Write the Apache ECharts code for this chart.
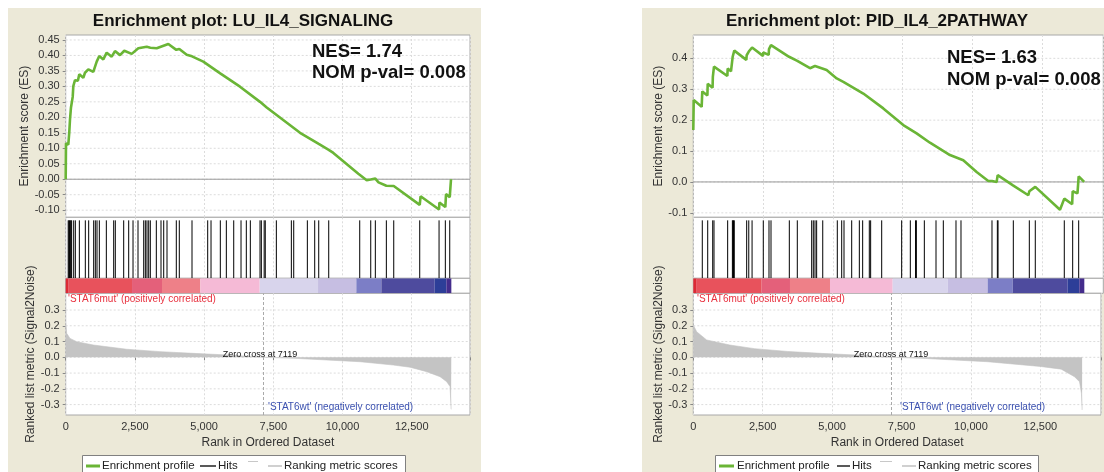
<!DOCTYPE html>
<html><head><meta charset="utf-8">
<script src="https://cdn.jsdelivr.net/npm/echarts@6/dist/echarts.min.js"></script>
<style>html,body{margin:0;padding:0;background:#fff}#c{width:1104px;height:472px}</style>
</head><body><div id="c"></div>
<script>
// ---------------- DATA ----------------
const p1Title = 'Enrichment plot: LU_IL4_SIGNALING';
const p1Stats = ['NES= 1.74', 'NOM p-val= 0.008'];
const p1EsRank = [0,11,94,130,155,191,253,275,336,440,491,636,697,817,997,1120,1214,1358,1481,1662,1781,1962,2117,2385,2623,2927,3060,3288,3707,3996,4104,4372,4563,4600,4971,5582,6297,7020,7262,8466,9141,9502,9669,10572,10622,10875,11020,11186,11300,11584,11620,11851,11880,12790,12820,13488,13500,13715,13740,13874,13920];
const p1EsScore = [0,0.116,0.112,0.153,0.193,0.232,0.266,0.301,0.32,0.318,0.339,0.328,0.344,0.355,0.347,0.38,0.398,0.387,0.409,0.396,0.414,0.401,0.415,0.405,0.423,0.428,0.425,0.423,0.437,0.418,0.421,0.402,0.397,0.401,0.38,0.342,0.299,0.25,0.232,0.150,0.114,0.095,0.085,0.018,0.02,-0.003,-0.001,0.002,-0.01,-0.021,-0.016,-0.022,-0.018,-0.083,-0.055,-0.098,-0.075,-0.09,-0.048,-0.058,0];
const p1Hits = [90,115,140,165,190,215,289,348,493,709,830,1011,1070,1131,1215,1468,1734,1792,2095,2276,2432,2612,2818,2877,2937,2999,3057,3274,3443,3541,3660,3996,4104,4563,5130,5250,5586,5803,6070,6334,6525,6670,7020,7068,7170,7210,7610,8152,8238,8730,8996,9141,9502,10622,11020,11186,11584,11851,12790,13488,13715,13874];
const p1BarStart = [0,108,2396,3479,4865,7009,9116,10500,11404,13331,13751];
const p1BarEnd   = [108,2396,3479,4865,7009,9116,10500,11404,13331,13751,13932];
const p1MetricRank  = [0,36,155,397,997,2204,3408,4611,5815,7119,8224,9428,10633,11837,12440,13043,13525,13766,13886,13922,13930];
const p1MetricValue = [0.216,0.152,0.12,0.099,0.078,0.051,0.036,0.025,0.015,0,-0.006,-0.017,-0.028,-0.049,-0.063,-0.091,-0.123,-0.155,-0.186,-0.323,-0.33];
const p1EsTicks = [-0.10,-0.05,0.00,0.05,0.10,0.15,0.20,0.25,0.30,0.35,0.40,0.45];

const p2Title = 'Enrichment plot: PID_IL4_2PATHWAY';
const p2Stats = ['NES= 1.63', 'NOM p-val= 0.008'];
const p2EsRank = [0,15,300,322,505,516,690,700,741,1220,1231,1350,1410,1468,1900,1912,1987,2105,2495,2507,2700,2711,2783,3430,3439,3725,3760,4180,4240,4359,4418,4775,5136,5374,6089,6805,7521,7999,8476,9193,9670,10148,10566,10698,10864,10902,11450,11462,12000,12035,12249,13134,13288,13570,13588,13760,13803,14000];
const p2EsScore = [0.168,0.265,0.243,0.293,0.28,0.318,0.305,0.34,0.373,0.343,0.367,0.358,0.405,0.425,0.395,0.41,0.422,0.435,0.408,0.419,0.411,0.43,0.443,0.405,0.408,0.392,0.39,0.368,0.373,0.375,0.378,0.362,0.335,0.324,0.286,0.238,0.184,0.157,0.127,0.087,0.07,0.032,0.003,0.003,0.0,0.022,-0.011,-0.005,-0.043,-0.03,-0.016,-0.09,-0.054,-0.072,-0.03,-0.037,0.018,0.0];
const p2Hits = [322,516,695,741,1231,1400,1420,1440,1468,1912,1987,2105,2507,2711,2783,3439,3725,4240,4298,4359,4418,4636,5158,5315,5398,5673,5947,6066,6304,6352,6748,7463,7773,7960,7990,8275,8693,8955,9409,9588,10698,10890,10915,11462,12035,12249,13288,13588,13803];
const p2BarStart = [0,122,2449,3463,4896,7141,9111,10544,11440,13410,13826];
const p2BarEnd   = [122,2449,3463,4896,7141,9111,10544,11440,13410,13826,14005];
const p2MetricRank  = [0,122,480,1314,2200,3400,4600,5800,7119,8200,9400,10600,11800,12500,13252,13732,13911,13980,14005];
const p2MetricValue = [0.205,0.162,0.11,0.078,0.055,0.037,0.025,0.015,0,-0.006,-0.017,-0.028,-0.047,-0.058,-0.075,-0.123,-0.155,-0.228,-0.334];
const p2EsTicks = [-0.1,0.0,0.1,0.2,0.3,0.4];

const barColors = ['#dc2a35','#e8525c','#e4607a','#ee8088','#f5bad6','#d8d4ec','#c6bee2','#7c7ec6','#4e4b9e','#2d3e98','#442c8c'];
const metricTicks = [-0.3,-0.2,-0.1,0.0,0.1,0.2,0.3];
const zeroCross = 7119;
const posLabel = "'STAT6mut' (positively correlated)";
const negLabel = "'STAT6wt' (negatively correlated)";
const legendNames = ['Enrichment profile', 'Hits', 'Ranking metric scores'];

// ---------------- LAYOUT / STYLE ----------------
const FONT = '"Liberation Sans", Arial, sans-serif';
const GREEN = '#6ab536';
const BORDER = '#a8a8a8';
const GRIDC = '#dcdcdc';

const panels = [
  { title:p1Title, stats:p1Stats, esX:p1EsRank, esY:p1EsScore, hits:p1Hits, bs:p1BarStart, be:p1BarEnd,
    mx:p1MetricRank, my:p1MetricValue, esTicks:p1EsTicks, dec:2,
    L:{left:65.7, width:404.3, xMax:14606, esMin:-0.123, esMax:0.466, bg:[8,8,473,464],
       titleX:243, statX:312, statY:[52,73], legend:{x:82,green:[86,100],t1:102,hits:[200,216],t2:218,mark:[248,258],grey:[268,282],t3:284,w:323},
       posX:68, zeroTxtX:260, negX:268 } },
  { title:p2Title, stats:p2Stats, esX:p2EsRank, esY:p2EsScore, hits:p2Hits, bs:p2BarStart, be:p2BarEnd,
    mx:p2MetricRank, my:p2MetricValue, esTicks:p2EsTicks, dec:1,
    L:{left:693.3, width:410, xMax:14685, esMin:-0.1144, esMax:0.4755, bg:[642,8,462,464],
       titleX:877, statX:947, statY:[58,80], legend:{x:715,green:[719,734],t1:737,hits:[837,850],t2:852,mark:[880,892],grey:[902,916],t3:918,w:323},
       posX:697, zeroTxtX:891, negX:900 } }
];
const Y = { esTop:35, esBot:217.3, hitsBot:278.3, barBot:293.3, rankBot:415, rankMin:-0.366, rankMax:0.406 };

// ---------------- RENDERERS ----------------
function hLineRenderer(color, dash){
  return function(params, api){
    const cs = params.coordSys;
    const y = api.coord([0, api.value(1)])[1];
    return {type:'line', silent:true, shape:{x1:cs.x, y1:y, x2:cs.x+cs.width, y2:y},
      style:{stroke:color, lineWidth:1, lineDash: dash ? [2,2] : null}};
  };
}
function hitRenderer(params, api){
  const x = api.value(0);
  const a = api.coord([x, 0]), b = api.coord([x, 0.95]);
  return {type:'line', shape:{x1:a[0], y1:a[1], x2:b[0], y2:b[1]}, style:{stroke:'#000', lineWidth:1}};
}
function segRenderer(params, api){
  const a = api.coord([api.value(0), 1]), b = api.coord([api.value(1), 0]);
  return {type:'rect', shape:{x:a[0], y:a[1], width:b[0]-a[0], height:b[1]-a[1]}, style:{fill: api.visual('color')}};
}

const grid = [], xAxis = [], yAxis = [], series = [], graphic = [];
const fmtX = v => (v % 2500 === 0) ? v.toLocaleString('en-US') : '';

panels.forEach((P, pi) => {
  const L = P.L, g0 = pi * 4;
  // background
  graphic.push({type:'rect', z:-100, silent:true, shape:{x:L.bg[0], y:L.bg[1], width:L.bg[2], height:L.bg[3]}, style:{fill:'#ece9d8'}});
  // grids
  const tops = [Y.esTop, Y.esBot, Y.hitsBot, Y.barBot], bots = [Y.esBot, Y.hitsBot, Y.barBot, Y.rankBot];
  for (let k = 0; k < 4; k++) {
    grid.push({left:L.left, width:L.width, top:tops[k], height:bots[k]-tops[k], show:true,
      backgroundColor:'#fff', borderColor:BORDER, borderWidth:1, containLabel:false});
    xAxis.push({type:'value', gridIndex:g0+k, min:0, max:L.xMax, interval:2500,
      axisLine:{show:false}, axisTick:{show:k===3, length:3, lineStyle:{color:'#888'}},
      axisLabel:{show:k===3, formatter:fmtX, color:'#333', fontSize:11, fontFamily:FONT, margin:6},
      splitLine:{show:k!==2, lineStyle:{color:GRIDC, type:[2,2]}},
      name: k===3 ? 'Rank in Ordered Dataset' : '', nameLocation:'middle', nameGap:22,
      nameTextStyle:{fontSize:12, color:'#333', fontFamily:FONT}});
  }
  // y axes
  yAxis.push({type:'value', gridIndex:g0, min:L.esMin, max:L.esMax,
    axisLine:{show:false}, splitLine:{show:false},
    axisTick:{show:true, length:3, customValues:P.esTicks, lineStyle:{color:'#888'}},
    axisLabel:{customValues:P.esTicks, formatter:v => v.toFixed(P.dec), color:'#333', fontSize:11, fontFamily:FONT, margin:6},
    name:'Enrichment score (ES)', nameLocation:'middle', nameGap: pi===0 ? 30 : 27,
    nameTextStyle:{fontSize:12, color:'#333', fontFamily:FONT}});
  yAxis.push({type:'value', gridIndex:g0+1, min:0, max:1, show:false});
  yAxis.push({type:'value', gridIndex:g0+2, min:0, max:1, show:false});
  yAxis.push({type:'value', gridIndex:g0+3, min:Y.rankMin, max:Y.rankMax,
    axisLine:{show:false}, splitLine:{show:false},
    axisTick:{show:true, length:3, customValues:metricTicks, lineStyle:{color:'#888'}},
    axisLabel:{customValues:metricTicks, formatter:v => v.toFixed(1), color:'#333', fontSize:11, fontFamily:FONT, margin:6},
    name:'Ranked list metric (Signal2Noise)', nameLocation:'middle', nameGap:29,
    nameTextStyle:{fontSize:12, color:'#333', fontFamily:FONT}});

  // ES grid lines + zero line
  series.push({type:'custom', xAxisIndex:g0, yAxisIndex:g0, z:1, silent:true, clip:true,
    renderItem:hLineRenderer(GRIDC, true), data:P.esTicks.map(v => [0, v]), encode:{x:0, y:1}});
  series.push({type:'custom', xAxisIndex:g0, yAxisIndex:g0, z:2, silent:true, clip:true,
    renderItem:hLineRenderer('#9a9a9a', false), data:[[0, 0]], encode:{x:0, y:1}});
  // Enrichment profile
  series.push({name:legendNames[0], type:'line', xAxisIndex:g0, yAxisIndex:g0, z:5, showSymbol:false, clip:true,
    data:P.esX.map((x, i) => [x, P.esY[i]]), lineStyle:{color:GREEN, width:2.6}, itemStyle:{color:GREEN}, animation:false});
  // Hits
  series.push({name:legendNames[1], type:'custom', xAxisIndex:g0+1, yAxisIndex:g0+1, z:3, clip:true,
    renderItem:hitRenderer, data:P.hits.map(h => [h, 0]), encode:{x:0, y:1}});
  // Color bar
  series.push({type:'custom', xAxisIndex:g0+2, yAxisIndex:g0+2, z:3, clip:true, renderItem:segRenderer,
    encode:{x:[0,1]}, data:P.bs.map((s, i) => ({value:[s, P.be[i]], itemStyle:{color:barColors[i]}}))});
  // Rank grid lines
  series.push({type:'custom', xAxisIndex:g0+3, yAxisIndex:g0+3, z:1, silent:true, clip:true,
    renderItem:hLineRenderer(GRIDC, true), data:metricTicks.map(v => [0, v]), encode:{x:0, y:1}});
  // Ranking metric
  series.push({name:legendNames[2], type:'line', xAxisIndex:g0+3, yAxisIndex:g0+3, z:3, showSymbol:false, clip:true,
    data:P.mx.map((x, i) => [x, P.my[i]]), lineStyle:{color:'#c2c2c2', width:0.6}, areaStyle:{color:'#c4c4c4', opacity:1},
    animation:false,
    markLine:{silent:true, symbol:'none', animation:false, label:{show:false},
      lineStyle:{color:'#aaa', type:[3,2], width:1}, data:[{xAxis:zeroCross}]}});

  // Texts
  graphic.push({type:'text', x:L.titleX, y:21, style:{text:P.title, font:'bold 17px ' + FONT, fill:'#111', align:'center', verticalAlign:'middle'}});
  graphic.push({type:'text', x:L.statX, y:L.statY[0], z:10, style:{text:P.stats[0], font:'bold 18.5px ' + FONT, fill:'#111', align:'left', verticalAlign:'middle'}});
  graphic.push({type:'text', x:L.statX, y:L.statY[1], z:10, style:{text:P.stats[1], font:'bold 18.5px ' + FONT, fill:'#111', align:'left', verticalAlign:'middle'}});
  graphic.push({type:'text', x:L.posX, y:299.5, z:10, style:{text:posLabel, font:'10px ' + FONT, fill:'#e8303e', align:'left', verticalAlign:'middle'}});
  graphic.push({type:'text', x:L.zeroTxtX, y:355, z:10, style:{text:'Zero cross at ' + zeroCross, font:'9px ' + FONT, fill:'#111', align:'center', verticalAlign:'middle'}});
  graphic.push({type:'text', x:L.negX, y:407.5, z:10, style:{text:negLabel, font:'10px ' + FONT, fill:'#3a50b0', align:'left', verticalAlign:'middle'}});

  // Legend box
  const lg = L.legend, ly = 466;
  graphic.push({type:'rect', z:10, shape:{x:lg.x + 0.5, y:455.5, width:lg.w, height:30}, style:{fill:'#fff', stroke:'#808080', lineWidth:1}});
  graphic.push({type:'line', z:11, shape:{x1:lg.green[0], y1:ly, x2:lg.green[1], y2:ly}, style:{stroke:GREEN, lineWidth:3}});
  graphic.push({type:'text', z:11, x:lg.t1, y:ly, style:{text:legendNames[0], font:'11.5px ' + FONT, fill:'#222', align:'left', verticalAlign:'middle'}});
  graphic.push({type:'line', z:11, shape:{x1:lg.hits[0], y1:ly, x2:lg.hits[1], y2:ly}, style:{stroke:'#222', lineWidth:1.5}});
  graphic.push({type:'text', z:11, x:lg.t2, y:ly, style:{text:legendNames[1], font:'11.5px ' + FONT, fill:'#222', align:'left', verticalAlign:'middle'}});
  graphic.push({type:'line', z:11, shape:{x1:lg.mark[0], y1:461.5, x2:lg.mark[1], y2:461.5}, style:{stroke:'#c8c8c8', lineWidth:1}});
  graphic.push({type:'line', z:11, shape:{x1:lg.grey[0], y1:ly, x2:lg.grey[1], y2:ly}, style:{stroke:'#d0d0d0', lineWidth:2}});
  graphic.push({type:'text', z:11, x:lg.t3, y:ly, style:{text:legendNames[2], font:'11.5px ' + FONT, fill:'#222', align:'left', verticalAlign:'middle'}});
});

const chart = echarts.init(document.getElementById('c'), null, {renderer:'canvas'});
chart.setOption({
  backgroundColor:'#fff', animation:false,
  grid, xAxis, yAxis, series, graphic,
  textStyle:{fontFamily:FONT}
});
</script></body></html>
